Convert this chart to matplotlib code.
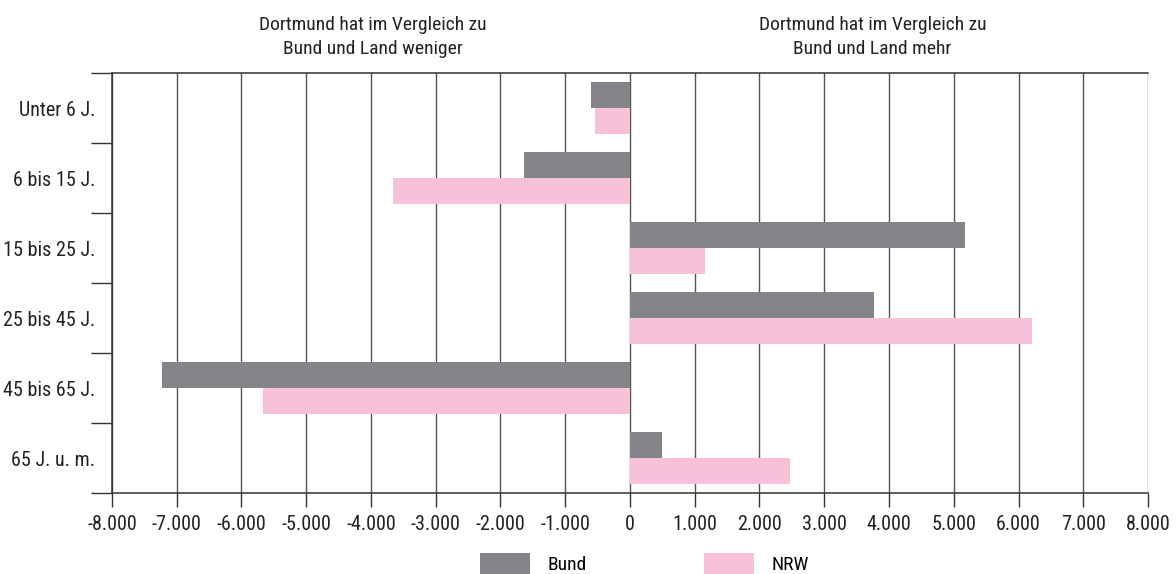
import matplotlib.pyplot as plt
import numpy as np

# age groups, top to bottom
categories = ["Unter 6 J.", "6 bis 15 J.", "15 bis 25 J.", "25 bis 45 J.", "45 bis 65 J.", "65 J. u. m."]
bund = [-597, -1630, 5175, 3771, -7229, 496]
nrw = [-537, -3654, 1165, 6209, -5671, 2467]
xticks = list(range(-8000, 8001, 1000))

plt.rcParams['font.family'] = ['Roboto Condensed', 'Open Sans Condensed', 'PT Sans Narrow',
                               'Liberation Sans Narrow', 'Roboto', 'DejaVu Sans']

fig = plt.figure(figsize=(11.76, 5.74), dpi=100)
ax = fig.add_axes([0.0952, 0.1411, 0.8810, 0.7317])

y = np.arange(len(categories))
h = 0.37
ax.barh(y - h / 2, bund, height=h, color='#838487', label='Bund', zorder=3)
ax.barh(y + h / 2, nrw, height=h, color='#f7c1da', label='NRW', zorder=3)

ax.set_xlim(-8000, 8000)
ax.set_ylim(len(categories) - 0.5, -0.5)

ax.set_xticks(xticks)
ax.set_xticklabels([f"{v:,}".replace(",", ".") for v in xticks], fontsize=14.5, color='#222222')
ax.tick_params(axis='x', length=10, width=1, color='#333333', pad=6)

# labels at category centres, tick marks at the boundaries
ax.set_yticks(y)
ax.set_yticklabels(categories, fontsize=14.5, color='#222222')
ax.set_yticks(np.arange(-0.5, len(categories)), minor=True)
ax.tick_params(axis='y', which='major', length=0, pad=12)
ax.tick_params(axis='y', which='minor', length=15, width=1, color='#333333')

for v in xticks:
    ax.axvline(v, color='#555555', lw=1.0, zorder=1)

for s in ['top', 'bottom', 'left']:
    ax.spines[s].set_color('#333333')
    ax.spines[s].set_linewidth(1.1)
ax.spines['right'].set_visible(False)

fig.text(0.317, 0.935, "Dortmund hat im Vergleich zu\nBund und Land weniger", ha='center', va='center',
         fontsize=14, color='#222222', linespacing=1.45)
fig.text(0.742, 0.935, "Dortmund hat im Vergleich zu\nBund und Land mehr", ha='center', va='center',
         fontsize=14, color='#222222', linespacing=1.45)

fig.legend(loc='lower center', bbox_to_anchor=(0.548, -0.031), ncol=2, frameon=False, fontsize=14,
           handlelength=2.6, handleheight=1.3, columnspacing=6.0, handletextpad=0.9)

fig.savefig('out.png', dpi=100)
